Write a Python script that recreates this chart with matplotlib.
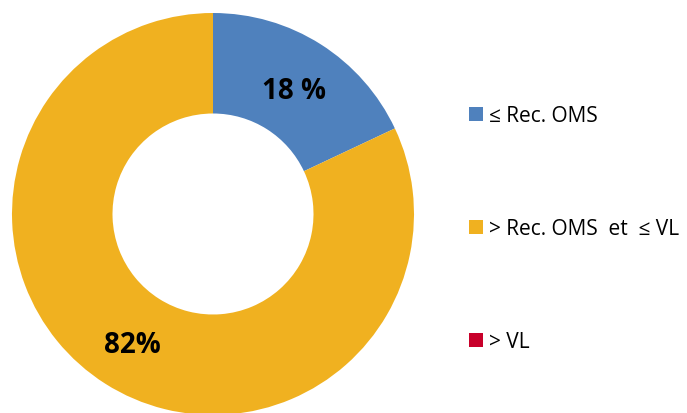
import matplotlib
matplotlib.use("Agg")
import matplotlib.pyplot as plt
import numpy as np

categories = ["≤ Rec. OMS", "> Rec. OMS  et  ≤ VL", "> VL"]
values = [18, 82, 0]
pct_labels = ["18 %", "82%", ""]
colors = ["#4F81BD", "#F0B120", "#C8002A"]

plt.rcParams['font.family'] = ['Open Sans', 'DejaVu Sans']

fig = plt.figure(figsize=(6.87, 4.14), dpi=100)
W, H = 687, 414
ax = fig.add_axes([12 / W, -2 / H, 402 / W, 402 / H])
wedges, _ = ax.pie(values, colors=colors, startangle=90, counterclock=False,
                   radius=1.0, wedgeprops=dict(width=0.5, linewidth=0))
ax.set_xlim(-1, 1)
ax.set_ylim(-1, 1)
ax.set_aspect('equal')
ax.axis('off')

for w, lab in zip(wedges, pct_labels):
    if not lab:
        continue
    mid = np.deg2rad((w.theta1 + w.theta2) / 2)
    r = 0.75
    ax.text(r * np.cos(mid), r * np.sin(mid), lab, ha='center',
            va='center_baseline', fontsize=20, fontweight='bold', color='black')

leg = fig.legend(wedges, categories, loc='upper left',
                 bbox_to_anchor=(469 / W, 1 - 106 / H), frameon=False,
                 fontsize=15, handlelength=0.68, handleheight=0.68,
                 handletextpad=0.3, labelspacing=4.42, borderpad=0,
                 borderaxespad=0)

fig.savefig("out.png", dpi=100)
